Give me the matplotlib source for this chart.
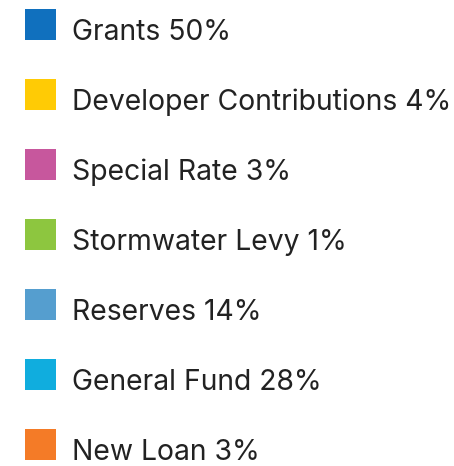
import matplotlib
matplotlib.use("Agg")
import matplotlib.pyplot as plt
from matplotlib.patches import Rectangle

# legend entries
labels = ["Grants", "Developer Contributions", "Special Rate", "Stormwater Levy",
          "Reserves", "General Fund", "New Loan"]
shares = [50, 4, 3, 1, 14, 28, 3]
colors = ["#1070BE", "#FFCB05", "#C7579D", "#8DC63F", "#559ECF", "#10ADDE", "#F47B27"]

W, H = 454, 466
fig = plt.figure(figsize=(W / 100, H / 100), dpi=100)
ax = fig.add_axes([0, 0, 1, 1])
ax.set_xlim(0, W)
ax.set_ylim(H, 0)
ax.axis("off")

row_gap = 70
top = 9
box = 31
for i, (lab, s, c) in enumerate(zip(labels, shares, colors)):
    y0 = top + i * row_gap
    ax.add_patch(Rectangle((25, y0), box, box, facecolor=c, edgecolor="none"))
    ax.text(72, y0 + 31, f"{lab} {s}%", fontsize=20.4, family="Inter",
            color="#222222", va="baseline", ha="left")

fig.savefig("out.png", dpi=100, facecolor="white")
